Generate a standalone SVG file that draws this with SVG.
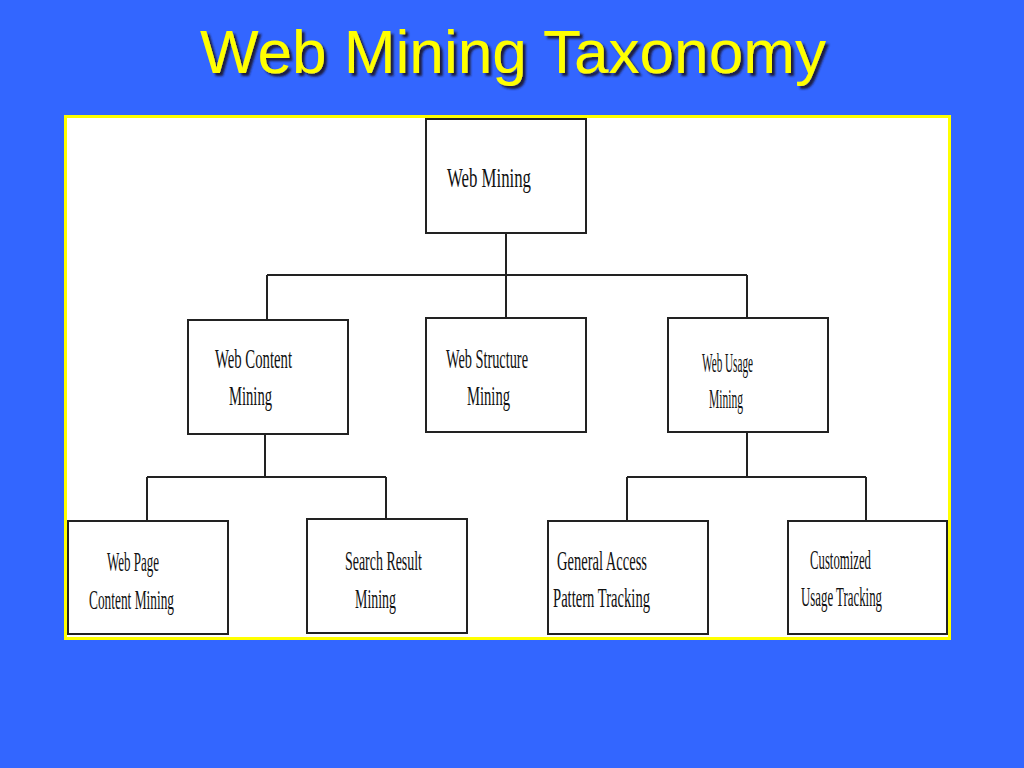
<svg xmlns="http://www.w3.org/2000/svg" width="1024" height="768" viewBox="0 0 1024 768">
<defs>
<style>
.title{font-family:"Liberation Sans",Arial,sans-serif;font-size:62px;fill:#ffff00;}
.box{fill:#fff;stroke:#222;stroke-width:2;}
.lbl{font-family:"Liberation Serif","Times New Roman",serif;font-size:28px;fill:#111;}
.con line{stroke:#222;stroke-width:2;}
</style>
<filter id="shadow" x="-5%" y="-20%" width="110%" height="140%">
<feDropShadow dx="3" dy="3" stdDeviation="0.8" flood-color="#1a1a40" flood-opacity="1"/>
</filter>
</defs>
<rect x="0" y="0" width="1024" height="768" fill="#3366ff"/>
<g id="title">
<text class="title" x="200" y="73" filter="url(#shadow)" textLength="626" lengthAdjust="spacingAndGlyphs">Web Mining Taxonomy</text>
</g>
<rect x="65.5" y="116.5" width="884" height="522" fill="#fff" stroke="#ffff00" stroke-width="3"/>
<g class="con" id="connectors">
<line x1="506" y1="233" x2="506" y2="318"/>
<line x1="267" y1="275" x2="747" y2="275"/>
<line x1="267" y1="275" x2="267" y2="320"/>
<line x1="747" y1="275" x2="747" y2="318"/>
<line x1="265" y1="434" x2="265" y2="477"/>
<line x1="147" y1="477" x2="386" y2="477"/>
<line x1="147" y1="477" x2="147" y2="521"/>
<line x1="386" y1="477" x2="386" y2="519"/>
<line x1="747" y1="432" x2="747" y2="477"/>
<line x1="627" y1="477" x2="866" y2="477"/>
<line x1="627" y1="477" x2="627" y2="521"/>
<line x1="866" y1="477" x2="866" y2="521"/>
</g>
<g id="web-mining">
<rect class="box" x="426" y="119" width="160" height="114"/>
<text class="lbl" x="447" y="187" textLength="84" lengthAdjust="spacingAndGlyphs">Web Mining</text>
</g>
<g id="web-content-mining">
<rect class="box" x="188" y="320" width="160" height="114"/>
<text class="lbl" x="215" y="368" textLength="77" lengthAdjust="spacingAndGlyphs">Web Content</text>
<text class="lbl" x="229" y="405" textLength="43" lengthAdjust="spacingAndGlyphs">Mining</text>
</g>
<g id="web-structure-mining">
<rect class="box" x="426" y="318" width="160" height="114"/>
<text class="lbl" x="446" y="368" textLength="82" lengthAdjust="spacingAndGlyphs">Web Structure</text>
<text class="lbl" x="467" y="405" textLength="43" lengthAdjust="spacingAndGlyphs">Mining</text>
</g>
<g id="web-usage-mining">
<rect class="box" x="668" y="318" width="160" height="114"/>
<text class="lbl" x="702" y="372" textLength="51" lengthAdjust="spacingAndGlyphs">Web Usage</text>
<text class="lbl" x="709" y="408" textLength="34" lengthAdjust="spacingAndGlyphs">Mining</text>
</g>
<g id="web-page-content-mining">
<rect class="box" x="68" y="521" width="160" height="113"/>
<text class="lbl" x="107" y="571" textLength="52" lengthAdjust="spacingAndGlyphs">Web Page</text>
<text class="lbl" x="89" y="609" textLength="85" lengthAdjust="spacingAndGlyphs">Content Mining</text>
</g>
<g id="search-result-mining">
<rect class="box" x="307" y="519" width="160" height="114"/>
<text class="lbl" x="345" y="570" textLength="77" lengthAdjust="spacingAndGlyphs">Search Result</text>
<text class="lbl" x="355" y="608" textLength="41" lengthAdjust="spacingAndGlyphs">Mining</text>
</g>
<g id="general-access-pattern-tracking">
<rect class="box" x="548" y="521" width="160" height="113"/>
<text class="lbl" x="557" y="570" textLength="90" lengthAdjust="spacingAndGlyphs">General Access</text>
<text class="lbl" x="553" y="607" textLength="97" lengthAdjust="spacingAndGlyphs">Pattern Tracking</text>
</g>
<g id="customized-usage-tracking">
<rect class="box" x="788" y="521" width="159" height="113"/>
<text class="lbl" x="810" y="569" textLength="61" lengthAdjust="spacingAndGlyphs">Customized</text>
<text class="lbl" x="801" y="606" textLength="81" lengthAdjust="spacingAndGlyphs">Usage Tracking</text>
</g>
</svg>
